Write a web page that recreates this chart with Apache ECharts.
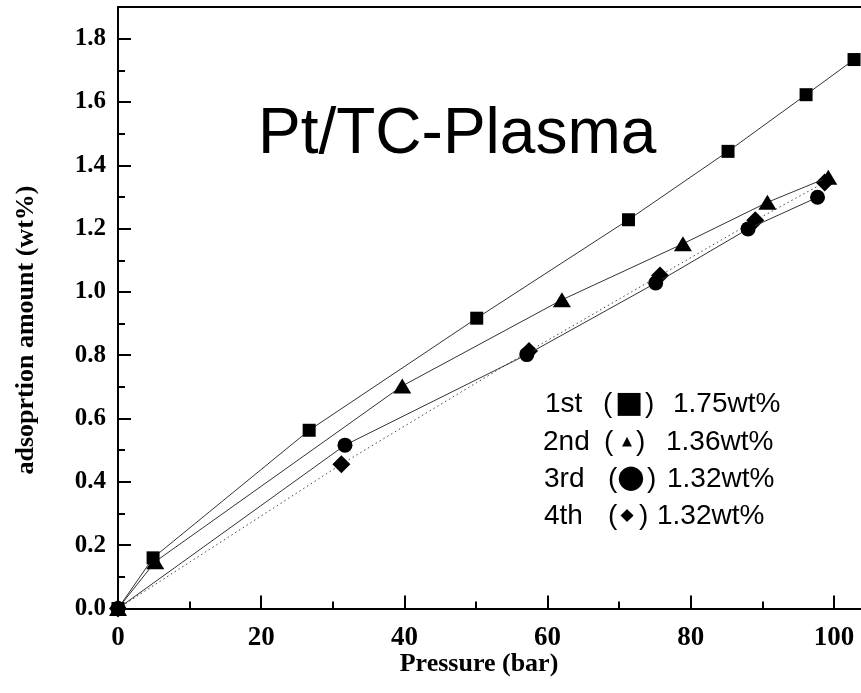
<!DOCTYPE html>
<html>
<head>
<meta charset="utf-8">
<script src="https://cdn.jsdelivr.net/npm/echarts@6/dist/echarts.min.js"></script>
<style>html,body{margin:0;padding:0;background:#fff;overflow:hidden}#c{width:900px;height:693px}</style>
</head>
<body>
<div id="c"></div>
<script>
// ---- data ----
const run1X = [0, 4.9, 26.7, 50.1, 71.3, 85.2, 96.1, 102.8];
const run1Y = [0, 0.160, 0.563, 0.917, 1.228, 1.444, 1.623, 1.734];
const run2X = [0, 5.2, 39.7, 62.0, 78.9, 90.7, 99.2];
const run2Y = [0, 0.148, 0.703, 0.975, 1.152, 1.283, 1.362];
const run3X = [0, 31.7, 57.1, 75.1, 88.0, 97.7];
const run3Y = [0, 0.516, 0.802, 1.028, 1.199, 1.299];
const run4X = [0, 31.2, 57.4, 75.7, 89.0, 98.7];
const run4Y = [0, 0.456, 0.813, 1.052, 1.226, 1.346];
const legendNames = ['1st', '2nd', '3rd', '4th'];
const legendSyms = ['■', '▲', '●', '◆'];
const legendVals = ['1.75wt%', '1.36wt%', '1.32wt%', '1.32wt%'];
const titleText = 'Pt/TC-Plasma';
const xTitle = 'Pressure (bar)';
const yTitle = 'adsoprtion amount (wt%)';

const zip = (xs, ys) => xs.map((x, i) => [x, ys[i]]);
const serif = '"Liberation Serif", "Times New Roman", serif';
const sans = '"Liberation Sans", Arial, sans-serif';

// legend layout (decoration positions)
const lgLineY = [404, 442, 479, 516];
const lgNameX = [545, 543, 544, 544];
const lgOpenX = [603, 604, 608, 608];
const lgSymX = [629, 627, 631, 627];
const lgSymSize = [30, 13, 32, 17];
const lgCloseX = [645, 636, 647, 639];
const lgValX = [673, 666, 667, 657];

const graphics = [];
graphics.push({type: 'text', x: 258, y: 135, style: {text: titleText, font: '64px ' + sans, fill: '#000', verticalAlign: 'middle', align: 'left'}});
graphics.push({type: 'text', x: 26, y: 330, rotation: Math.PI / 2, style: {text: yTitle, font: 'bold 26px ' + serif, fill: '#000', verticalAlign: 'middle', align: 'center'}});
graphics.push({type: 'text', x: 479, y: 664, style: {text: xTitle, font: 'bold 26px ' + serif, fill: '#000', verticalAlign: 'middle', align: 'center'}});
for (let i = 0; i < 4; i++) {
  const y = lgLineY[i];
  graphics.push({type: 'text', x: lgNameX[i], y, style: {text: legendNames[i], font: '28px ' + sans, fill: '#000', verticalAlign: 'middle'}});
  graphics.push({type: 'text', x: lgOpenX[i], y, style: {text: '(', font: '28px ' + sans, fill: '#000', verticalAlign: 'middle'}});
  graphics.push({type: 'text', x: lgSymX[i], y, style: {text: legendSyms[i], font: lgSymSize[i] + 'px "DejaVu Sans"', fill: '#000', verticalAlign: 'middle', align: 'center'}});
  graphics.push({type: 'text', x: lgCloseX[i], y, style: {text: ')', font: '28px ' + sans, fill: '#000', verticalAlign: 'middle'}});
  graphics.push({type: 'text', x: lgValX[i], y, style: {text: legendVals[i], font: '28px ' + sans, fill: '#000', verticalAlign: 'middle'}});
}

const lineStyle = {color: '#333', width: 1};
const chart = echarts.init(document.getElementById('c'), null, {renderer: 'canvas', width: 900, height: 693});
chart.setOption({
  animation: false,
  backgroundColor: '#fff',
  grid: {left: 118, top: 7, bottom: 84.5, right: 30.2, containLabel: false},
  xAxis: [{
    type: 'value', min: 0, max: 105, interval: 20, position: 'bottom',
    axisLine: {show: true, onZero: false, lineStyle: {color: '#000', width: 2}},
    axisTick: {show: true, inside: true, length: 13, lineStyle: {color: '#000', width: 2}},
    minorTick: {show: true, splitNumber: 2, length: 7, lineStyle: {color: '#000', width: 2}},
    splitLine: {show: false},
    axisLabel: {showMaxLabel: false, margin: 16, color: '#000', fontFamily: serif, fontWeight: 'bold', fontSize: 27}
  }, {
    type: 'value', min: 0, max: 105, position: 'top',
    axisLine: {show: true, onZero: false, lineStyle: {color: '#000', width: 2}},
    axisTick: {show: false}, axisLabel: {show: false}, splitLine: {show: false}
  }],
  yAxis: {
    type: 'value', min: 0, max: 1.9, interval: 0.2,
    axisLine: {show: true, onZero: false, lineStyle: {color: '#000', width: 2}},
    axisTick: {show: true, inside: true, length: 13, lineStyle: {color: '#000', width: 2}},
    minorTick: {show: true, splitNumber: 2, length: 7, lineStyle: {color: '#000', width: 2}},
    splitLine: {show: false},
    axisLabel: {showMaxLabel: false, margin: 12, color: '#000', fontFamily: serif, fontWeight: 'bold', fontSize: 25,
      formatter: v => v.toFixed(1)}
  },
  series: [
    {type: 'line', data: zip(run1X, run1Y), symbol: 'rect', symbolSize: 13, lineStyle, itemStyle: {color: '#000'}, z: 5},
    {type: 'line', data: zip(run2X, run2Y), symbol: 'triangle', symbolSize: [18, 15], lineStyle, itemStyle: {color: '#000'}, z: 5},
    {type: 'line', data: zip(run3X, run3Y), symbol: 'circle', symbolSize: 15, lineStyle, itemStyle: {color: '#000'}, z: 5},
    {type: 'line', data: zip(run4X, run4Y), symbol: 'diamond', symbolSize: 18, lineStyle: {color: '#444', width: 1, type: [1.5, 3]}, itemStyle: {color: '#000'}, z: 4}
  ],
  graphic: graphics
});
</script>
</body>
</html>
